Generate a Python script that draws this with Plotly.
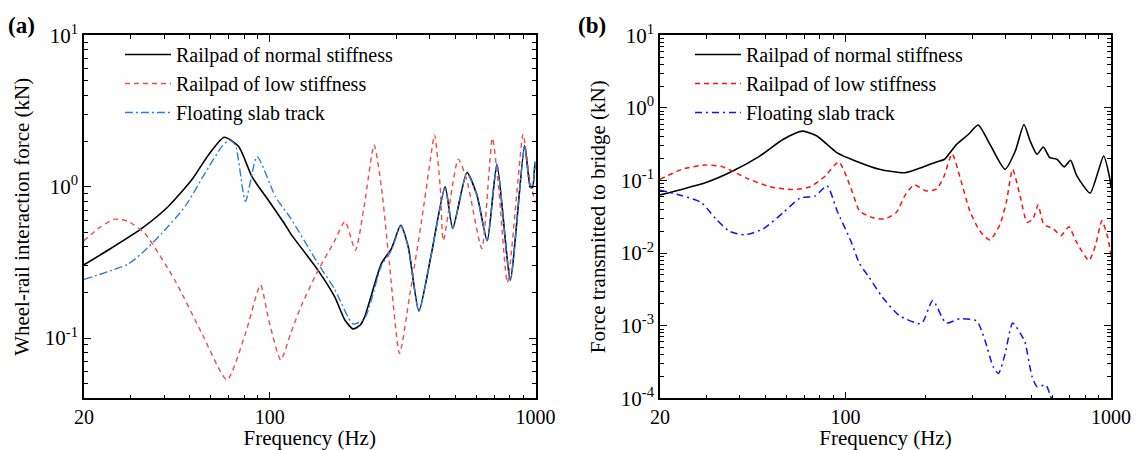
import math
import plotly.graph_objects as go

# ---------------- data ----------------
series_names = ["Railpad of normal stiffness", "Railpad of low stiffness", "Floating slab track"]

# Panel (a): wheel-rail interaction force (kN)
a_normal_f = [20, 24.6, 33, 41.5, 50.9, 58.8, 67.4, 76.4, 85.8, 100, 113.8, 119.8, 152, 175.6, 192, 205.8,
              219, 227.6, 263, 287, 311, 332, 364, 406, 457, 488, 552, 602, 658, 716, 804, 910, 957, 975, 996, 1000]
a_normal_v = [0.305, 0.38, 0.53, 0.74, 1.11, 1.62, 2.12, 1.84, 1.16, 0.79, 0.567, 0.49, 0.28, 0.187, 0.131, 0.115,
              0.122, 0.138, 0.31, 0.39, 0.556, 0.40, 0.151, 0.363, 1.0, 0.53, 1.24, 0.88, 0.44, 1.41, 0.245, 1.87, 0.99, 0.99, 1.46, 1.3]

a_low_f = [20, 23, 26.1, 29.3, 33.9, 44, 55.6, 69, 81, 92.3, 99.2, 110, 119.8, 131, 152, 175.6, 192, 210, 227.6,
           247, 263, 282, 308, 337, 373, 402, 417, 438, 450, 512, 552, 628, 688, 726, 784, 857, 898, 957, 1000]
a_low_v = [0.44, 0.54, 0.61, 0.59, 0.49, 0.24, 0.107, 0.053, 0.107, 0.224, 0.131, 0.0716, 0.107, 0.161, 0.28, 0.44,
           0.59, 0.38, 0.78, 1.89, 1.0, 0.31, 0.079, 0.197, 0.60, 1.5, 2.2, 1.0, 0.44, 1.52, 1.1, 0.39, 2.09, 1.0,
           0.232, 1.05, 2.22, 1.05, 0.78]

a_slab_f = [20, 29.3, 33, 39.2, 48, 57.1, 66, 70.4, 74.2, 81, 89.6, 105, 119.8, 152, 175.6, 205.8, 227.6,
            263, 287, 311, 332, 364, 406, 457, 488, 552, 602, 658, 716, 804, 910, 957, 975, 996, 1000]
a_slab_v = [0.244, 0.308, 0.363, 0.49, 0.74, 1.23, 1.84, 2.03, 1.89, 0.80, 1.58, 0.86, 0.62, 0.31, 0.21, 0.124, 0.135,
            0.30, 0.38, 0.55, 0.40, 0.15, 0.36, 0.99, 0.53, 1.23, 0.87, 0.44, 1.40, 0.24, 1.86, 0.99, 0.99, 1.45, 1.3]

# Panel (b): force transmitted to bridge (kN)
b_normal_f = [20, 24.3, 29.8, 37.6, 47.5, 58.3, 68.9, 78, 93, 109, 134, 167, 196, 220, 236, 262, 290, 316, 350,
              399, 436, 470, 496, 526, 556, 588, 626, 666, 704, 742, 834, 888, 938, 988, 1000]
b_normal_v = [0.0634, 0.076, 0.0936, 0.135, 0.217, 0.37, 0.479, 0.41, 0.24, 0.186, 0.143, 0.128, 0.154, 0.18, 0.196,
              0.315, 0.43, 0.58, 0.315, 0.143, 0.255, 0.59, 0.35, 0.23, 0.289, 0.206, 0.196, 0.154, 0.19, 0.118,
              0.067, 0.122, 0.217, 0.11, 0.08]

b_low_f = [20, 24.3, 29.8, 34.5, 42.3, 51.9, 63.6, 73.7, 84, 94.3, 104.6, 113, 126, 140, 155, 168.6, 181.6, 201,
           220, 234, 252, 270, 294, 320, 350, 382, 404, 426, 456, 483, 508, 531, 558, 608, 648, 694, 737, 826,
           877, 924, 972, 1000]
b_low_v = [0.104, 0.143, 0.164, 0.154, 0.108, 0.082, 0.075, 0.082, 0.116, 0.18, 0.08, 0.038, 0.031, 0.0295, 0.036,
           0.065, 0.087, 0.072, 0.076, 0.11, 0.234, 0.11, 0.038, 0.0204, 0.0152, 0.025, 0.052, 0.143, 0.058,
           0.0265, 0.0295, 0.046, 0.025, 0.0215, 0.0174, 0.023, 0.0148, 0.0079, 0.0134, 0.028, 0.0165, 0.0092]

b_slab_f = [20, 24.3, 28.6, 32.5, 36.6, 41.7, 48.9, 58.3, 67.4, 77, 85.2, 93, 104.6, 113, 122.6, 137.6, 159, 193,
            213, 239, 270, 312, 335, 360, 377, 399, 426, 456, 474, 504, 526, 568, 590, 610]
b_slab_v = [0.0736, 0.0615, 0.0498, 0.0294, 0.0199, 0.0179, 0.0215, 0.0363, 0.0572, 0.0615, 0.0843, 0.038, 0.0148,
            0.0071, 0.00466, 0.00248, 0.00139, 0.00107, 0.00223, 0.00109, 0.00125, 0.00116, 0.00063, 0.00027,
            0.00022, 0.00041, 0.00109, 0.00078, 0.0006, 0.0002, 0.000145, 0.000152, 0.000111, 0.00008]

x_tick_vals = [20, 100, 1000]
x_tick_text = ["20", "100", "1000"]
a_y_tick_vals = [0.1, 1, 10]
a_y_tick_text = ["10<sup>-1</sup>", "10<sup>0</sup>", "10<sup>1</sup>"]
b_y_tick_vals = [1e-4, 1e-3, 1e-2, 1e-1, 1, 10]
b_y_tick_text = ["10<sup>-4</sup>", "10<sup>-3</sup>", "10<sup>-2</sup>", "10<sup>-1</sup>", "10<sup>0</sup>", "10<sup>1</sup>"]

x_title = "Frequency (Hz)"
a_y_title = "Wheel-rail interaction force (kN)"
b_y_title = "Force transmitted to bridge (kN)"
panel_labels = ["(a)", "(b)"]

# ---------------- figure ----------------
W, H = 1139, 450
FONT = "Liberation Serif, Times New Roman, Times, serif"
FS = 21
XTFS = 20
LFS = 20

def minor_vals(lo_exp, hi_exp, lo=None, hi=None):
    vals = []
    for e in range(lo_exp, hi_exp):
        for k in range(2, 10):
            v = k * 10 ** e
            if (lo is None or v >= lo) and (hi is None or v <= hi):
                vals.append(v)
    return vals

fig = go.Figure()

styles_a = [dict(color="black", width=1.6, dash="solid"),
            dict(color="#f24b4b", width=1.4, dash="5px,4px"),
            dict(color="#2b7de0", width=1.4, dash="8px,3px,2px,3px")]
styles_b = [dict(color="black", width=1.6, dash="solid"),
            dict(color="#ff1010", width=1.5, dash="5px,4px"),
            dict(color="#1010ff", width=1.5, dash="7px,4px,2px,4px")]

for (f, v), name, st in zip([(a_normal_f, a_normal_v), (a_low_f, a_low_v), (a_slab_f, a_slab_v)], series_names, styles_a):
    fig.add_trace(go.Scatter(x=f, y=v, mode="lines", name=name, line=dict(shape="spline", smoothing=0.6, **st),
                             xaxis="x", yaxis="y", legend="legend"))
for (f, v), name, st in zip([(b_normal_f, b_normal_v), (b_low_f, b_low_v), (b_slab_f, b_slab_v)], series_names, styles_b):
    fig.add_trace(go.Scatter(x=f, y=v, mode="lines", name=name, line=dict(shape="spline", smoothing=0.6, **st),
                             xaxis="x2", yaxis="y2", legend="legend2"))

x1 = (84 / W, 535.5 / W)
x2 = (660 / W, 1111 / W)
ydom = (1 - 398.3 / H, 1 - 35.3 / H)

common_axis = dict(type="log", showline=True, linecolor="black", linewidth=1.5, mirror="allticks",
                   ticks="inside", ticklen=7, tickwidth=1.3, tickcolor="black", showgrid=False, zeroline=False,
                   automargin=False, tickfont=dict(family=FONT, size=FS, color="black"))

def xaxis(domain, anchor):
    return dict(common_axis, domain=domain, anchor=anchor, range=[math.log10(20), 3], tickmode="array",
                tickvals=x_tick_vals, ticktext=x_tick_text,
                tickfont=dict(family=FONT, size=XTFS, color="black"),
                minor=dict(tickmode="array", tickvals=minor_vals(1, 3, 30, 900), ticks="inside", ticklen=4,
                           tickwidth=1.1, tickcolor="black", showgrid=False),
                title=dict(text=x_title, font=dict(family=FONT, size=FS, color="black"), standoff=7))

def yaxis(rng, tv, tt, lo_exp, title, anchor, lo=None, standoff=9):
    return dict(common_axis, domain=ydom, anchor=anchor, range=rng, tickmode="array", tickvals=tv, ticktext=tt,
                minor=dict(tickmode="array", tickvals=minor_vals(lo_exp, 1, lo, 9), ticks="inside", ticklen=4,
                           tickwidth=1.1, tickcolor="black", showgrid=False),
                title=dict(text=title, font=dict(family=FONT, size=FS, color="black"), standoff=standoff))

legend_common = dict(font=dict(family=FONT, size=LFS, color="black"), bgcolor="rgba(0,0,0,0)",
                     itemwidth=46, xanchor="left", yanchor="top", tracegroupgap=0, itemclick=False)

fig.update_layout(
    width=W, height=H, margin=dict(l=0, r=0, t=0, b=0, autoexpand=False),
    paper_bgcolor="white", plot_bgcolor="white",
    font=dict(family=FONT, size=FS, color="black"),
    xaxis=xaxis(x1, "y"),
    yaxis=yaxis([math.log10(0.04), 1], a_y_tick_vals, a_y_tick_text, -2, a_y_title, "x", lo=0.04),
    xaxis2=xaxis(x2, "y2"),
    yaxis2=yaxis([-4, 1], b_y_tick_vals, b_y_tick_text, -4, b_y_title, "x2"),
    legend=dict(legend_common, x=120 / W, y=1 - 35 / H),
    legend2=dict(legend_common, x=690 / W, y=1 - 35 / H),
    showlegend=True,
    annotations=[
        dict(text="<b>" + panel_labels[0] + "</b>", x=21 / W, y=1 - 25 / H, xref="paper", yref="paper",
             xanchor="center", yanchor="middle", showarrow=False, font=dict(family=FONT, size=23, color="black")),
        dict(text="<b>" + panel_labels[1] + "</b>", x=592 / W, y=1 - 25 / H, xref="paper", yref="paper",
             xanchor="center", yanchor="middle", showarrow=False, font=dict(family=FONT, size=23, color="black")),
    ],
)

fig.write_html("out.html")
